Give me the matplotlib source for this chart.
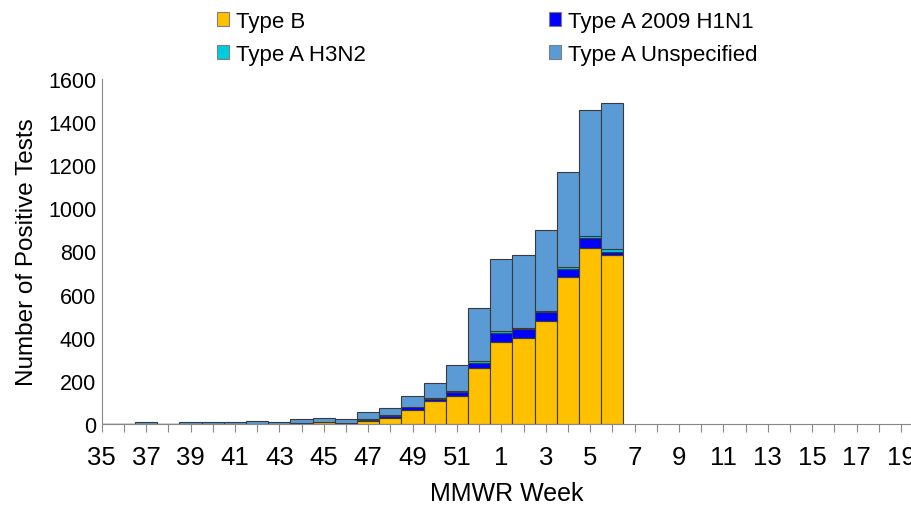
import numpy as np
import matplotlib.pyplot as plt

## DONNÉES

semaines = list(range(35, 53)) + list(range(1, 20))

# valeurs des semaines 35 à 52 puis 1 à 6
type_b = [0, 0, 1, 0, 1, 1, 1, 1, 1, 4, 8, 4, 16, 29, 63, 108, 131, 260,
          380, 397, 478, 682, 818, 784]
h1n1 = [0, 0, 0, 0, 0, 0, 0, 0, 0, 1, 3, 2, 4, 10, 16, 10, 17, 22,
        40, 42, 40, 38, 43, 15]
h3n2 = [0, 0, 0, 0, 0, 0, 0, 0, 0, 0, 0, 0, 1, 2, 2, 3, 4, 8,
        9, 8, 5, 10, 9, 12]
non_specifie = [1, 2, 7, 2, 10, 7, 9, 14, 9, 18, 16, 18, 33, 33, 47, 70, 123, 250,
                336, 338, 377, 439, 588, 676]

## FIGURE

plt.rcParams['font.family'] = ['Liberation Sans', 'DejaVu Sans']

fig = plt.figure(figsize=(9.12, 5.06), dpi=100)
ax = fig.add_axes([101.7 / 912, 1 - 425 / 506, 1 - 101.7 / 912, 345 / 506])

x = np.arange(len(type_b))
b = np.array(type_b)
a1 = np.array(h1n1)
a3 = np.array(h3n2)
u = np.array(non_specifie)

bord = dict(width=1.0, edgecolor='#3a3a3a', linewidth=0.8)
barres_b = ax.bar(x, b, color='#FFC000', label='Type B', **bord)
barres_h1 = ax.bar(x, a1, bottom=b, color='#0000FF', label='Type A 2009 H1N1', **bord)
barres_h3 = ax.bar(x, a3, bottom=b + a1, color='#00CCE0', label='Type A H3N2', **bord)
barres_u = ax.bar(x, u, bottom=b + a1 + a3, color='#5B9BD5', label='Type A Unspecified', **bord)

ax.set_xlim(0, (912 - 101.7) / 22.2)
ax.set_ylim(0, 1600)
ax.set_yticks(range(0, 1601, 200))
ax.tick_params(axis='y', length=0, pad=4, labelsize=15.5)

positions = np.arange(len(semaines))
etiquettes = [str(s) if i % 2 == 0 else '' for i, s in enumerate(semaines)]
ax.set_xticks(positions)
ax.set_xticklabels(etiquettes)
ax.tick_params(axis='x', length=6, width=0.8, color='#888888', pad=9, labelsize=18.5)

for cote in ['top', 'right']:
    ax.spines[cote].set_visible(False)
ax.spines['left'].set_color('#888888')
ax.spines['bottom'].set_color('#888888')

ax.set_ylabel('Number of Positive Tests', fontsize=17.5, labelpad=7)
ax.set_xlabel('MMWR Week', fontsize=18, labelpad=9)

poignees = [barres_b, barres_h3, barres_h1, barres_u]
noms = [p.get_label() for p in poignees]
leg = fig.legend(poignees, noms, ncol=2, loc='upper left',
                 bbox_to_anchor=(217 / 912, 1 - 12 / 506), frameon=False,
                 fontsize=16, handlelength=0.55, handleheight=0.55,
                 handletextpad=0.3, columnspacing=8.23, labelspacing=0.54,
                 borderpad=0, borderaxespad=0)
for p in leg.legend_handles:
    p.set_edgecolor('#7f7f7f')
    p.set_linewidth(0.8)

fig.savefig('out.png', dpi=100)
